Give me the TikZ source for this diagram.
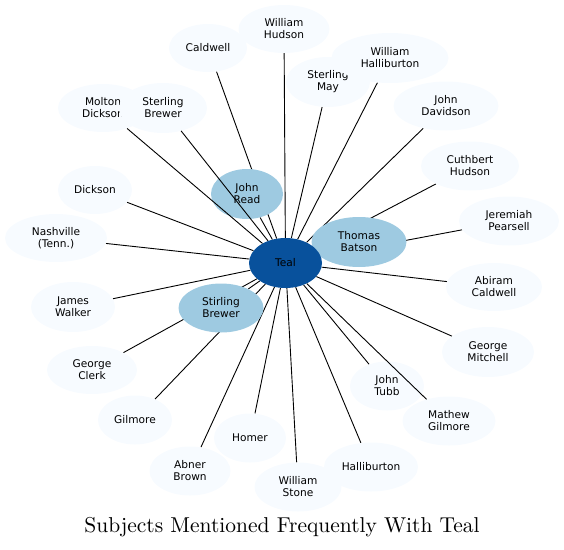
\documentclass[tikz,border=0pt]{standalone}
\usepackage{fontspec}
\newfontfamily\lab{DejaVu Sans}
\newfontfamily\titlefont{lmroman10-regular.otf}
\usetikzlibrary{shapes.geometric,backgrounds}
\definecolor{cLight}{HTML}{F7FBFF}
\definecolor{cMid}{HTML}{9ECAE1}
\definecolor{cDark}{HTML}{08519C}
\begin{document}
\begin{tikzpicture}[x=1pt,y=-1pt,
  nd/.style={ellipse, inner sep=0pt, align=center, text=black,
    font=\lab\fontsize{10.6}{12}\selectfont},
  lightnd/.style={nd, fill=cLight},
  midnd/.style={nd, fill=cMid},
  darknd/.style={nd, fill=cDark},
  sz/.style 2 args={minimum width=#1pt, minimum height=#2pt},
  lnk/.style={draw=black, line width=0.9pt}]
\useasboundingbox (0,0) rectangle (564,549);

% nodes
\node[lightnd, sz={91}{48}] (whudson) at (284,29) {William\\Hudson};
\node[lightnd, sz={78}{48}] (caldwell) at (208,48) {Caldwell};
\node[lightnd, sz={90}{48}] (molton) at (103,108) {Molton\\Dickson};
\node[lightnd, sz={88}{50}] (sterbrew) at (163,108) {Sterling\\Brewer};
\node[lightnd, sz={84}{50}] (stermay) at (328,82) {Sterling\\May};
\node[lightnd, sz={117}{50}] (whalli) at (390,58) {William\\Halliburton};
\node[lightnd, sz={105}{49}] (jdavid) at (446,106) {John\\Davidson};
\node[lightnd, sz={98}{49}] (cuthbert) at (470,166) {Cuthbert\\Hudson};
\node[lightnd, sz={100}{49}] (jeremiah) at (509,221) {Jeremiah\\Pearsell};
\node[lightnd, sz={74}{48}] (dickson) at (95,190) {Dickson};
\node[lightnd, sz={102}{48}] (nash) at (56,238) {Nashville\\(Tenn.)};
\node[lightnd, sz={96}{48}] (abiram) at (494,287) {Abiram\\Caldwell};
\node[lightnd, sz={84}{50}] (jwalker) at (73,307) {James\\Walker};
\node[lightnd, sz={92}{50}] (gmitch) at (488,352) {George\\Mitchell};
\node[lightnd, sz={90}{48}] (gclerk) at (92,370) {George\\Clerk};
\node[lightnd, sz={74}{49}] (jtubb) at (387,386) {John\\Tubb};
\node[lightnd, sz={74}{49}] (gilmore) at (135,420) {Gilmore};
\node[lightnd, sz={93}{49}] (mgilmore) at (449,421) {Mathew\\Gilmore};
\node[lightnd, sz={72}{49}] (homer) at (250,438) {Homer};
\node[lightnd, sz={81}{49}] (abner) at (190,471) {Abner\\Brown};
\node[lightnd, sz={87}{49}] (wstone) at (298,487) {William\\Stone};
\node[lightnd, sz={94}{49}] (halli) at (371,467) {Halliburton};
\node[midnd, sz={72}{50}] (jread) at (247,194) {John\\Read};
\node[midnd, sz={95}{50}] (tbatson) at (359,242) {Thomas\\Batson};
\node[midnd, sz={85}{49}] (stirbrew) at (221,308) {Stirling\\Brewer};
\node[darknd, sz={73}{50}] (tealn) at (285.5,263) {Teal};

% edges behind the nodes
\begin{scope}[on background layer]
\foreach \n in {whudson,caldwell,stermay,whalli,jdavid,cuthbert,jeremiah,
  dickson,nash,abiram,jwalker,gmitch,gclerk,jtubb,gilmore,homer,
  abner,wstone,halli,jread,tbatson,stirbrew}
  \draw[lnk] (tealn) -- (\n);
\end{scope}
% edges drawn over the nodes
\draw[lnk] (tealn) -- (molton);
\draw[lnk] (tealn) -- (sterbrew);
\draw[lnk] (tealn) -- (mgilmore);

\node[font=\titlefont\fontsize{21.5}{25}\selectfont, anchor=base, inner sep=0pt]
  (title) at (282,532) {Subjects Mentioned Frequently With Teal};
\end{tikzpicture}
\end{document}
